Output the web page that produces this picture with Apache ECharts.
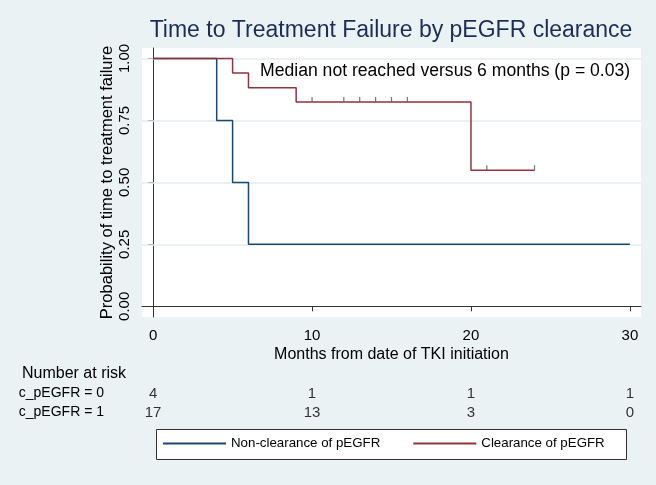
<!DOCTYPE html>
<html>
<head>
<meta charset="utf-8">
<script src="https://cdn.jsdelivr.net/npm/echarts@6/dist/echarts.min.js"></script>
<style>
html,body{margin:0;padding:0;background:#eaf2f3;}
#c{width:656px;height:485px;}
</style>
</head>
<body>
<div id="c"></div>
<script>
// ---- data ----
var titleText = 'Time to Treatment Failure by pEGFR clearance';
var annotation = 'Median not reached versus 6 months (p = 0.03)';
var seriesNames = ['Non-clearance of pEGFR', 'Clearance of pEGFR'];
var nonClearTimes = [0, 4, 5, 6, 30];
var nonClearSurv = [1, 0.75, 0.5, 0.25, 0.25];
var clearTimes = [0, 5, 6, 9, 20, 24];
var clearSurv = [1, 0.941, 0.882, 0.824, 0.549, 0.549];
var censorTimes = [10, 12, 13, 14, 15, 16, 21, 24];
var censorSurv = [0.824, 0.824, 0.824, 0.824, 0.824, 0.824, 0.549, 0.549];
var xTicks = [0, 10, 20, 30];
var yTicks = [0, 0.25, 0.5, 0.75, 1];
var riskGroups = ['c_pEGFR = 0', 'c_pEGFR = 1'];
var riskTimes = [0, 10, 20, 30];
var riskGroup0 = [4, 1, 1, 1];
var riskGroup1 = [17, 13, 3, 0];

var FONT = 'Liberation Sans, Arial, Helvetica, sans-serif';
var BLUE = '#1a476f', RED = '#90353b', AXIS = '#333333';

function zip(a, b) { return a.map(function (v, i) { return [v, b[i]]; }); }
var riskData = [];
riskTimes.forEach(function (t, i) {
  riskData.push([t, riskGroups[0], riskGroup0[i]]);
  riskData.push([t, riskGroups[1], riskGroup1[i]]);
});

var chart = echarts.init(document.getElementById('c'), null, {renderer: 'canvas'});
chart.setOption({
  backgroundColor: '#eaf2f3',
  animation: false,
  textStyle: {fontFamily: FONT},
  grid: [
    {left: 142, right: 15, top: 48, bottom: 168, show: true, backgroundColor: '#ffffff', borderWidth: 0},
    {left: 142, right: 15, top: 384, height: 38}
  ],
  xAxis: [
    {
      type: 'value', gridIndex: 0, min: -0.7, max: 30.7,
      axisLine: {lineStyle: {color: AXIS, width: 1}},
      axisTick: {show: true, customValues: xTicks, length: 5, lineStyle: {color: AXIS}},
      axisLabel: {customValues: xTicks, fontSize: 15, color: '#000', margin: 11, fontFamily: FONT},
      splitLine: {show: false},
      name: 'Months from date of TKI initiation', nameLocation: 'middle', nameGap: 30, nameMoveOverlap: false,
      nameTextStyle: {fontSize: 16, color: '#000', fontFamily: FONT}
    },
    {type: 'value', gridIndex: 1, min: -0.7, max: 30.7, show: false}
  ],
  yAxis: [
    {
      type: 'value', gridIndex: 0, min: -0.043, max: 1.042,
      axisLine: {show: true, lineStyle: {color: AXIS, width: 1}},
      axisTick: {show: true, customValues: yTicks, length: 5, lineStyle: {color: AXIS}},
      axisLabel: {customValues: yTicks, rotate: 90, fontSize: 15, color: '#000', margin: 10, fontFamily: FONT,
        formatter: function (v) { return v.toFixed(2); }},
      splitLine: {show: false},
      name: 'Probability of time to treatment failure', nameLocation: 'middle', nameGap: 26, nameRotate: 90,
      nameMoveOverlap: false,
      nameTextStyle: {fontSize: 16.5, color: '#000', fontFamily: FONT}
    },
    {
      type: 'category', gridIndex: 1, data: riskGroups, inverse: true,
      axisLine: {show: false}, axisTick: {show: false}, splitLine: {show: false},
      axisLabel: {interval: 0, fontSize: 14, color: '#000', margin: 38, fontFamily: FONT}
    }
  ],
  legend: {
    data: seriesNames, left: 163, top: 437, icon: 'rect', itemWidth: 63, itemHeight: 2,
    itemGap: 33, itemTextGap: 10, padding: 0,
    textStyle: {fontSize: 13.3, color: '#000', fontFamily: FONT}
  },
  graphic: [
    {type: 'rect', shape: {x: 156.5, y: 429.5, width: 470, height: 30}, style: {fill: '#fff', stroke: '#333', lineWidth: 1}, z: -1},
    {type: 'text', x: 391, y: 31, style: {text: titleText, fontSize: 23, fill: '#1c2d5a', fontFamily: FONT, textAlign: 'center', textVerticalAlign: 'middle'}},
    {type: 'text', x: 260, y: 71, style: {text: annotation, fontSize: 17.6, fill: '#000', fontFamily: FONT, textAlign: 'left', textVerticalAlign: 'middle'}, z: 100},
    {type: 'text', x: 22, y: 374, style: {text: 'Number at risk', fontSize: 16, fill: '#000', fontFamily: FONT, textAlign: 'left', textVerticalAlign: 'middle'}}
  ],
  series: [
    {
      name: seriesNames[0], type: 'line', step: 'end', xAxisIndex: 0, yAxisIndex: 0,
      data: zip(nonClearTimes, nonClearSurv), showSymbol: false, symbol: 'none',
      lineStyle: {color: BLUE, width: 1.5}, itemStyle: {color: BLUE}, z: 3,
      markLine: {
        silent: true, symbol: 'none', label: {show: false},
        lineStyle: {color: '#e3edf0', width: 1.5, type: 'solid'},
        data: yTicks.filter(function (v) { return v > 0; }).map(function (v) { return {yAxis: v}; }),
        z: 1
      }
    },
    {
      name: seriesNames[1], type: 'line', step: 'end', xAxisIndex: 0, yAxisIndex: 0,
      data: zip(clearTimes, clearSurv), showSymbol: false, symbol: 'none',
      lineStyle: {color: RED, width: 1.5}, itemStyle: {color: RED}, z: 3
    },
    {
      name: 'censored', type: 'scatter', xAxisIndex: 0, yAxisIndex: 0,
      data: zip(censorTimes, censorSurv), symbol: 'rect', symbolSize: [1.2, 5], symbolOffset: [0, -2.5],
      itemStyle: {color: '#555'}, z: 4, silent: true
    },
    {
      name: 'risk', type: 'scatter', xAxisIndex: 1, yAxisIndex: 1,
      data: riskData, symbolSize: 1, itemStyle: {color: 'rgba(0,0,0,0)'}, silent: true,
      label: {show: true, position: 'inside', fontSize: 15, color: '#000', fontFamily: FONT,
        formatter: function (p) { return String(p.value[2]); }}
    }
  ]
});
</script>
</body>
</html>
